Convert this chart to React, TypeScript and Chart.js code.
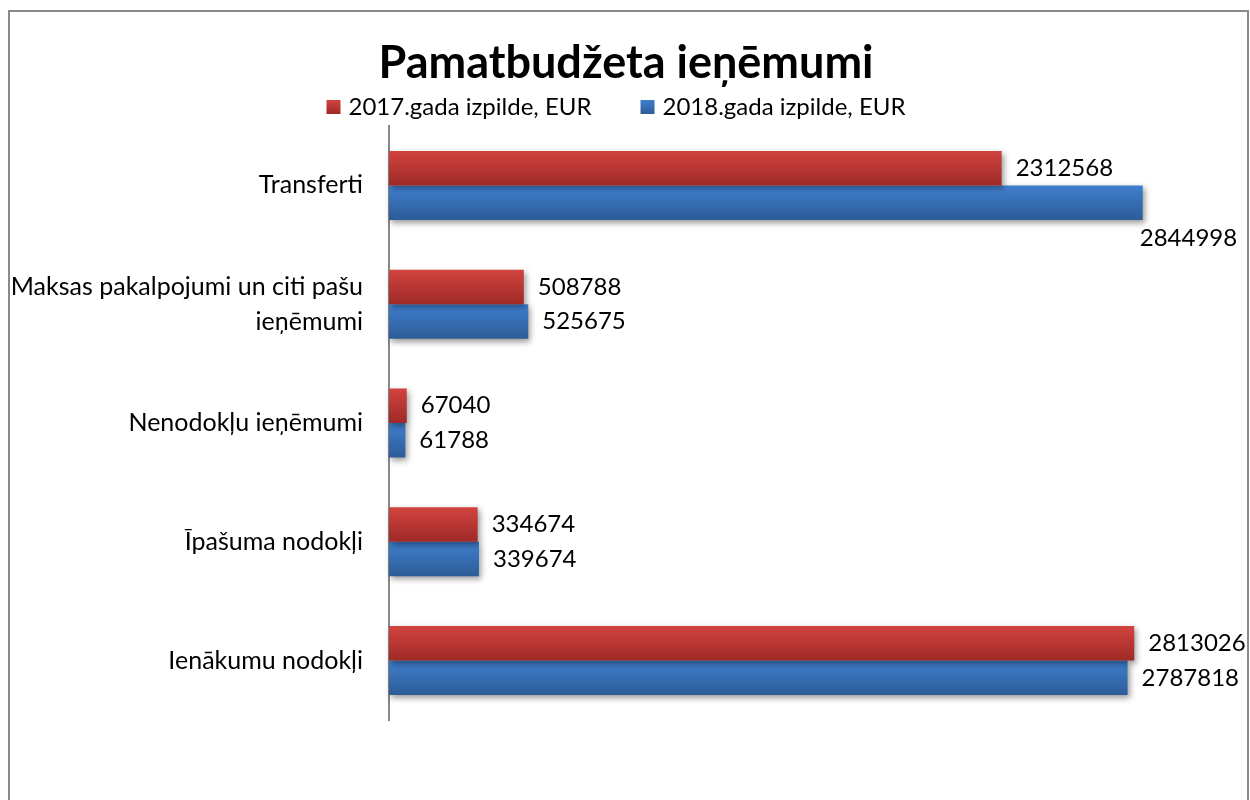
import React, { useEffect, useRef } from 'react';
import { Chart, registerables } from 'chart.js';

Chart.register(...registerables);

const categories: (string | string[])[] = [
  'Transferti',
  ['Maksas pakalpojumi un citi pašu', 'ieņēmumi'],
  'Nenodokļu ieņēmumi',
  'Īpašuma nodokļi',
  'Ienākumu nodokļi',
];
const seriesNames = ['2017.gada izpilde, EUR', '2018.gada izpilde, EUR'];
const values2017 = [2312568, 508788, 67040, 334674, 2813026];
const values2018 = [2844998, 525675, 61788, 339674, 2787818];
const titleText = 'Pamatbudžeta ieņēmumi';
const axisMax = 3250000;

const FONT = 'Lato, "Open Sans", sans-serif';
const gradTop = ['#d2433e', '#3f7fcf'];
const gradBottom = ['#9e2a27', '#2d5c97'];
const solid = ['#c0392f', '#3a72b8'];

const framePlugin = {
  id: 'frame',
  beforeDraw(chart: any) {
    const ctx = chart.ctx;
    ctx.save();
    ctx.fillStyle = '#ffffff';
    ctx.fillRect(0, 0, chart.width, chart.height);
    ctx.strokeStyle = '#8a8a8a';
    ctx.lineWidth = 2;
    ctx.strokeRect(9, 11, chart.width - 11, chart.height + 50);
    ctx.restore();
  },
};

const barStylePlugin = {
  id: 'barStyle',
  beforeDatasetDraw(chart: any, args: any) {
    const ctx = chart.ctx;
    const i = args.index;
    args.meta.data.forEach((el: any) => {
      const top = el.y - el.height / 2;
      const bottom = el.y + el.height / 2;
      const g = ctx.createLinearGradient(0, top, 0, bottom);
      g.addColorStop(0, gradTop[i]);
      g.addColorStop(1, gradBottom[i]);
      el.options = Object.assign({}, el.options, { backgroundColor: g });
    });
    ctx.save();
    ctx.shadowColor = 'rgba(0,0,0,0.4)';
    ctx.shadowBlur = 6;
    ctx.shadowOffsetX = 2;
    ctx.shadowOffsetY = 3;
  },
  afterDatasetDraw(chart: any) {
    chart.ctx.restore();
  },
};

const labelPlugin = {
  id: 'valueLabels',
  afterDatasetsDraw(chart: any) {
    const ctx = chart.ctx;
    ctx.save();
    ctx.font = `24px ${FONT}`;
    ctx.fillStyle = '#000';
    ctx.textBaseline = 'middle';
    ctx.textAlign = 'left';
    chart.data.datasets.forEach((ds: any, di: number) => {
      const meta = chart.getDatasetMeta(di);
      meta.data.forEach((el: any, j: number) => {
        const txt = String(ds.data[j]);
        const w = ctx.measureText(txt).width;
        let x = el.x + 14;
        let y = el.y;
        if (x + w > chart.width) {
          x = el.x - 3;
          y = el.y + el.height / 2 + 18;
        }
        ctx.fillText(txt, x, y);
      });
    });
    ctx.restore();
  },
};

const legendPlugin = {
  id: 'customLegend',
  afterDraw(chart: any) {
    const ctx = chart.ctx;
    ctx.save();
    ctx.font = `24px ${FONT}`;
    ctx.textBaseline = 'middle';
    ctx.textAlign = 'left';
    const box = 14;
    const gapBox = 8;
    const gapItem = 49;
    const items = chart.data.datasets.map((d: any) => d.label);
    const widths = items.map((t: string) => box + gapBox + ctx.measureText(t).width);
    const total = widths.reduce((a: number, b: number) => a + b, 0) + gapItem * (items.length - 1);
    let x = 616 - total / 2;
    const y = 107;
    items.forEach((t: string, i: number) => {
      const g = ctx.createLinearGradient(0, y - box / 2, 0, y + box / 2);
      g.addColorStop(0, gradTop[i]);
      g.addColorStop(1, gradBottom[i]);
      ctx.fillStyle = g;
      ctx.fillRect(x, y - box / 2, box, box);
      ctx.fillStyle = '#000';
      ctx.fillText(t, x + box + gapBox, y);
      x += widths[i] + gapItem;
    });
    ctx.restore();
  },
};

export default function App() {
  const ref = useRef<HTMLCanvasElement>(null);
  useEffect(() => {
    if (!ref.current) return;
    const chart = new Chart(ref.current, {
      type: 'bar',
      data: {
        labels: categories as any,
        datasets: [
          { label: seriesNames[0], data: values2017, backgroundColor: solid[0], borderWidth: 0, clip: false as any },
          { label: seriesNames[1], data: values2018, backgroundColor: solid[1], borderWidth: 0, clip: false as any },
        ],
      },
      options: {
        indexAxis: 'y',
        responsive: false,
        animation: false,
        devicePixelRatio: 1,
        categoryPercentage: 0.581,
        barPercentage: 1,
        layout: { padding: { top: 0, left: 0, right: -2, bottom: 80 } },
        plugins: {
          legend: { display: false },
          tooltip: { enabled: false },
          title: {
            display: true,
            text: titleText,
            color: '#000',
            font: { family: FONT, size: 45, weight: 'bold', lineHeight: 1.2 },
            padding: { top: 36, bottom: 36 },
          },
        },
        scales: {
          x: { display: false, min: 0, max: axisMax },
          y: {
            grid: { display: false, drawTicks: false },
            border: { display: true, color: '#888888', width: 2 },
            ticks: {
              color: '#000',
              padding: 26,
              font: { family: FONT, size: 25, lineHeight: 1.4 },
            },
            afterFit(scale: any) {
              scale.width = 389;
            },
          },
        },
      },
      plugins: [framePlugin, barStylePlugin, labelPlugin, legendPlugin],
    } as any);
    return () => chart.destroy();
  }, []);
  return (
    <div style={{ position: 'absolute', left: 0, top: 0, width: 1250, height: 800 }}>
      <canvas ref={ref} width={1250} height={800} />
    </div>
  );
}
